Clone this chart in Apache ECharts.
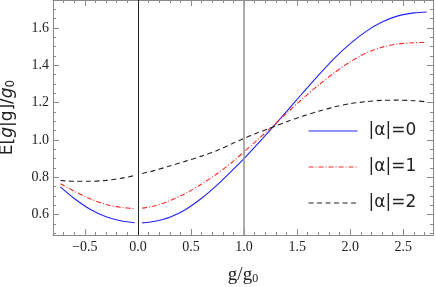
<!DOCTYPE html>
<html><head><meta charset="utf-8">
<script src="https://cdn.jsdelivr.net/npm/echarts@6/dist/echarts.min.js"></script>
<style>html,body{margin:0;padding:0;background:#fff}#c{width:436px;height:287px}</style>
</head><body><div id="c"></div>
<script>
// x grid (null row at x=0 marks the break of each curve)
const xs      = [-0.73,-0.6,-0.45,-0.3,-0.15,-0.03, 0, 0.04,0.15,0.3,0.45,0.6,0.75,0.9,1.0,1.1,1.25,1.4,1.55,1.7,1.85,2.0,2.15,2.3,2.45,2.6,2.72];
const alpha0  = [0.748,0.686,0.628,0.588,0.565,0.556, null, 0.555,0.562,0.585,0.627,0.687,0.760,0.843,0.900,0.961,1.055,1.152,1.250,1.346,1.437,1.516,1.582,1.632,1.665,1.681,1.686];
const alpha1  = [0.765,0.725,0.684,0.654,0.638,0.631, null, 0.634,0.645,0.674,0.713,0.763,0.820,0.886,0.936,0.987,1.064,1.143,1.220,1.293,1.360,1.418,1.466,1.497,1.514,1.521,1.522];
const alpha2  = [0.782,0.778,0.778,0.783,0.795,0.809, null, 0.820,0.835,0.860,0.886,0.913,0.944,0.983,1.008,1.032,1.064,1.097,1.127,1.153,1.177,1.194,1.205,1.212,1.213,1.210,1.204];
const names   = ['|α|=0','|α|=1','|α|=2'];
const vLines  = [0, 1];

const pairs = ys => xs.map((x,i)=>[x, ys[i]]);
const frame = '#8a8a8a';
const serif = 'Liberation Serif';
const sans = 'DejaVu Sans';

function xAx(extra){
  return Object.assign({
    type:'value', min:-0.8, max:2.78, splitNumber:7, minInterval:0.5, maxInterval:0.5,
    axisLine:{show:true, onZero:false, lineStyle:{color:frame, width:1}},
    axisTick:{show:true, inside:true, length:6, lineStyle:{color:frame, width:1}},
    minorTick:{show:true, splitNumber:5, length:3, lineStyle:{color:frame, width:1}},
    splitLine:{show:false}, minorSplitLine:{show:false}
  }, extra);
}
function yAx(extra){
  return Object.assign({
    type:'value', min:0.49, max:1.75, splitNumber:6, minInterval:0.2, maxInterval:0.2,
    axisLine:{show:true, onZero:false, lineStyle:{color:frame, width:1}},
    axisTick:{show:true, inside:true, length:6, lineStyle:{color:frame, width:1}},
    minorTick:{show:true, splitNumber:4, length:3, lineStyle:{color:frame, width:1}},
    splitLine:{show:false}, minorSplitLine:{show:false}
  }, extra);
}

const chart = echarts.init(document.getElementById('c'), null, {renderer:'canvas'});
chart.setOption({
  animation:false,
  backgroundColor:'#fff',
  grid:{left:53, right:3, top:0, bottom:52, containLabel:false, outerBoundsMode:'none'},
  xAxis:[
    xAx({position:'bottom',
      axisLabel:{show:true, margin:5, fontFamily:serif, fontSize:14, color:'#222',
        showMinLabel:false, showMaxLabel:false, formatter:v=>v.toFixed(1).replace('-','\u2212')},
      name:'{a|g/g}{b|0}', nameLocation:'middle', nameGap:30,
      nameTextStyle:{rich:{a:{fontFamily:serif, fontSize:19, color:'#222'}, b:{fontFamily:serif, fontSize:12, color:'#222', padding:[8,0,0,0]}}}
    }),
    xAx({position:'top', axisLabel:{show:false}})
  ],
  yAxis:[
    yAx({position:'left',
      axisLabel:{show:true, margin:4, fontFamily:serif, fontSize:14, color:'#222',
        showMinLabel:false, showMaxLabel:false, formatter:v=>v.toFixed(1)},
      name:'{a|E[}{i|g\u0303}{a||g]/}{i|g}{s|0}', nameLocation:'middle', nameGap:36, nameRotate:90,
      nameTextStyle:{rich:{
        a:{fontFamily:sans, fontSize:17, color:'#222'},
        i:{fontFamily:sans, fontSize:17, fontStyle:'italic', color:'#222'},
        s:{fontFamily:sans, fontSize:12, color:'#222', padding:[7,0,0,0]}}}
    }),
    yAx({position:'right', axisLabel:{show:false}})
  ],
  legend:{
    orient:'vertical', left:303, top:116, itemWidth:49, itemHeight:2, itemGap:16,
    itemStyle:{opacity:0},
    lineStyle:{width:1.1},
    data:names,
    textStyle:{fontFamily:sans, fontSize:17, color:'#222', lineHeight:20, padding:[0,0,0,6]}
  },
  series:[
    {name:names[0], type:'line', data:pairs(alpha0), showSymbol:false, symbol:'none', smooth:0.3, connectNulls:false,
     lineStyle:{color:'#2323ff', width:1.1, type:'solid'}, itemStyle:{color:'#2323ff'},
     markLine:{silent:true, symbol:'none', label:{show:false}, animation:false,
       data:[{xAxis:vLines[0], lineStyle:{color:'#222', width:1, type:'solid'}},
             {xAxis:vLines[1], lineStyle:{color:'#999', width:1.6, type:'solid'}}]}},
    {name:names[1], type:'line', data:pairs(alpha1), showSymbol:false, symbol:'none', smooth:0.3, connectNulls:false,
     lineStyle:{color:'#ff2a2a', width:1.1, type:[5,2,1,2]}, itemStyle:{color:'#ff2a2a'}},
    {name:names[2], type:'line', data:pairs(alpha2), showSymbol:false, symbol:'none', smooth:0.3, connectNulls:false,
     lineStyle:{color:'#222', width:1.1, type:[5,3.5]}, itemStyle:{color:'#222'}}
  ]
});
</script></body></html>
